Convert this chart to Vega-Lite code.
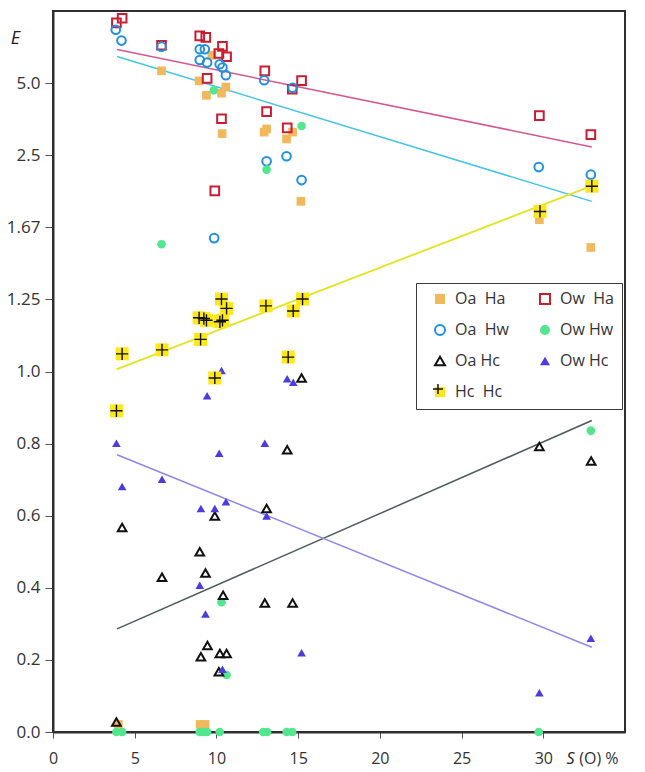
{
  "$schema": "https://vega.github.io/schema/vega-lite/v6.json",
  "width": 572,
  "height": 721,
  "autosize": {"type": "none"},
  "padding": {"left": 53, "top": 11, "right": 20, "bottom": 40},
  "background": "white",
  "config": {
    "font": "Open Sans",
    "view": {"stroke": "#2f2f2f", "strokeWidth": 2},
    "axis": {
      "grid": false,
      "domainColor": "#2f2f2f",
      "domainWidth": 2,
      "tickColor": "#555555",
      "tickWidth": 1,
      "labelColor": "#333333",
      "labelFont": "Open Sans",
      "labelFontSize": 16,
      "labelOverlap": false,
      "labelFlush": false,
      "titleFont": "Open Sans",
      "titleFontWeight": "normal",
      "titleColor": "#222222"
    }
  },
  "datasets": {
    "pts": [
      {"s": 6.64, "e": 1.834, "g": "Oa\u00a0\u00a0Ha"},
      {"s": 8.94, "e": 1.806, "g": "Oa\u00a0\u00a0Ha"},
      {"s": 9.39, "e": 1.766, "g": "Oa\u00a0\u00a0Ha"},
      {"s": 9.72, "e": 1.877, "g": "Oa\u00a0\u00a0Ha"},
      {"s": 10.31, "e": 1.772, "g": "Oa\u00a0\u00a0Ha"},
      {"s": 10.58, "e": 1.789, "g": "Oa\u00a0\u00a0Ha"},
      {"s": 10.35, "e": 1.66, "g": "Oa\u00a0\u00a0Ha"},
      {"s": 12.92, "e": 1.664, "g": "Oa\u00a0\u00a0Ha"},
      {"s": 13.07, "e": 1.673, "g": "Oa\u00a0\u00a0Ha"},
      {"s": 14.29, "e": 1.645, "g": "Oa\u00a0\u00a0Ha"},
      {"s": 14.66, "e": 1.664, "g": "Oa\u00a0\u00a0Ha"},
      {"s": 15.17, "e": 1.472, "g": "Oa\u00a0\u00a0Ha"},
      {"s": 29.76, "e": 1.421, "g": "Oa\u00a0\u00a0Ha"},
      {"s": 32.91, "e": 1.344, "g": "Oa\u00a0\u00a0Ha"},
      {"s": 4.0, "e": 0.021, "g": "Oa\u00a0\u00a0Ha"},
      {"s": 9.0, "e": 0.021, "g": "Oa\u00a0\u00a0Ha"},
      {"s": 9.3, "e": 0.021, "g": "Oa\u00a0\u00a0Ha"},

      {"s": 3.88, "e": 1.967, "g": "Ow\u00a0\u00a0Ha"},
      {"s": 4.23, "e": 1.98, "g": "Ow\u00a0\u00a0Ha"},
      {"s": 6.64, "e": 1.905, "g": "Ow\u00a0\u00a0Ha"},
      {"s": 8.98, "e": 1.931, "g": "Ow\u00a0\u00a0Ha"},
      {"s": 9.35, "e": 1.927, "g": "Ow\u00a0\u00a0Ha"},
      {"s": 10.37, "e": 1.902, "g": "Ow\u00a0\u00a0Ha"},
      {"s": 10.15, "e": 1.882, "g": "Ow\u00a0\u00a0Ha"},
      {"s": 10.62, "e": 1.873, "g": "Ow\u00a0\u00a0Ha"},
      {"s": 9.43, "e": 1.813, "g": "Ow\u00a0\u00a0Ha"},
      {"s": 12.96, "e": 1.834, "g": "Ow\u00a0\u00a0Ha"},
      {"s": 14.64, "e": 1.783, "g": "Ow\u00a0\u00a0Ha"},
      {"s": 15.21, "e": 1.807, "g": "Ow\u00a0\u00a0Ha"},
      {"s": 13.07, "e": 1.721, "g": "Ow\u00a0\u00a0Ha"},
      {"s": 10.31, "e": 1.701, "g": "Ow\u00a0\u00a0Ha"},
      {"s": 14.33, "e": 1.676, "g": "Ow\u00a0\u00a0Ha"},
      {"s": 9.9, "e": 1.501, "g": "Ow\u00a0\u00a0Ha"},
      {"s": 29.76, "e": 1.71, "g": "Ow\u00a0\u00a0Ha"},
      {"s": 32.91, "e": 1.657, "g": "Ow\u00a0\u00a0Ha"},

      {"s": 3.84, "e": 1.948, "g": "Oa\u00a0\u00a0Hw"},
      {"s": 4.19, "e": 1.918, "g": "Oa\u00a0\u00a0Hw"},
      {"s": 6.64, "e": 1.901, "g": "Oa\u00a0\u00a0Hw"},
      {"s": 8.98, "e": 1.894, "g": "Oa\u00a0\u00a0Hw"},
      {"s": 9.29, "e": 1.894, "g": "Oa\u00a0\u00a0Hw"},
      {"s": 8.98, "e": 1.864, "g": "Oa\u00a0\u00a0Hw"},
      {"s": 9.43, "e": 1.857, "g": "Oa\u00a0\u00a0Hw"},
      {"s": 10.2, "e": 1.852, "g": "Oa\u00a0\u00a0Hw"},
      {"s": 10.37, "e": 1.843, "g": "Oa\u00a0\u00a0Hw"},
      {"s": 10.58, "e": 1.822, "g": "Oa\u00a0\u00a0Hw"},
      {"s": 12.92, "e": 1.808, "g": "Oa\u00a0\u00a0Hw"},
      {"s": 14.66, "e": 1.787, "g": "Oa\u00a0\u00a0Hw"},
      {"s": 13.07, "e": 1.583, "g": "Oa\u00a0\u00a0Hw"},
      {"s": 14.29, "e": 1.597, "g": "Oa\u00a0\u00a0Hw"},
      {"s": 15.21, "e": 1.531, "g": "Oa\u00a0\u00a0Hw"},
      {"s": 9.86, "e": 1.37, "g": "Oa\u00a0\u00a0Hw"},
      {"s": 29.72, "e": 1.567, "g": "Oa\u00a0\u00a0Hw"},
      {"s": 32.91, "e": 1.546, "g": "Oa\u00a0\u00a0Hw"},

      {"s": 9.84, "e": 1.78, "g": "Ow Hw"},
      {"s": 6.64, "e": 1.353, "g": "Ow Hw"},
      {"s": 15.21, "e": 1.681, "g": "Ow Hw"},
      {"s": 13.07, "e": 1.56, "g": "Ow Hw"},
      {"s": 32.91, "e": 0.836, "g": "Ow Hw"},
      {"s": 10.31, "e": 0.36, "g": "Ow Hw"},
      {"s": 10.62, "e": 0.158, "g": "Ow Hw"},
      {"s": 3.88, "e": 0, "g": "Ow Hw"},
      {"s": 4.23, "e": 0, "g": "Ow Hw"},
      {"s": 8.98, "e": 0, "g": "Ow Hw"},
      {"s": 9.2, "e": 0, "g": "Ow Hw"},
      {"s": 9.43, "e": 0, "g": "Ow Hw"},
      {"s": 10.2, "e": 0, "g": "Ow Hw"},
      {"s": 12.86, "e": 0, "g": "Ow Hw"},
      {"s": 13.1, "e": 0, "g": "Ow Hw"},
      {"s": 14.3, "e": 0, "g": "Ow Hw"},
      {"s": 14.64, "e": 0, "g": "Ow Hw"},
      {"s": 29.72, "e": 0, "g": "Ow Hw"},

      {"s": 15.21, "e": 0.982, "g": "Oa Hc"},
      {"s": 14.33, "e": 0.783, "g": "Oa Hc"},
      {"s": 4.23, "e": 0.567, "g": "Oa Hc"},
      {"s": 6.67, "e": 0.429, "g": "Oa Hc"},
      {"s": 8.98, "e": 0.5, "g": "Oa Hc"},
      {"s": 9.33, "e": 0.441, "g": "Oa Hc"},
      {"s": 9.9, "e": 0.599, "g": "Oa Hc"},
      {"s": 13.07, "e": 0.62, "g": "Oa Hc"},
      {"s": 10.41, "e": 0.379, "g": "Oa Hc"},
      {"s": 12.96, "e": 0.358, "g": "Oa Hc"},
      {"s": 14.66, "e": 0.358, "g": "Oa Hc"},
      {"s": 9.45, "e": 0.24, "g": "Oa Hc"},
      {"s": 9.05, "e": 0.209, "g": "Oa Hc"},
      {"s": 10.21, "e": 0.218, "g": "Oa Hc"},
      {"s": 10.62, "e": 0.218, "g": "Oa Hc"},
      {"s": 10.15, "e": 0.167, "g": "Oa Hc"},
      {"s": 3.88, "e": 0.028, "g": "Oa Hc"},
      {"s": 29.76, "e": 0.792, "g": "Oa Hc"},
      {"s": 32.93, "e": 0.752, "g": "Oa Hc"},

      {"s": 3.88, "e": 0.801, "g": "Ow Hc"},
      {"s": 4.23, "e": 0.681, "g": "Ow Hc"},
      {"s": 6.67, "e": 0.701, "g": "Ow Hc"},
      {"s": 9.43, "e": 0.933, "g": "Ow Hc"},
      {"s": 10.31, "e": 1.003, "g": "Ow Hc"},
      {"s": 10.17, "e": 0.773, "g": "Ow Hc"},
      {"s": 12.96, "e": 0.801, "g": "Ow Hc"},
      {"s": 14.33, "e": 0.98, "g": "Ow Hc"},
      {"s": 14.7, "e": 0.97, "g": "Ow Hc"},
      {"s": 9.05, "e": 0.62, "g": "Ow Hc"},
      {"s": 9.9, "e": 0.62, "g": "Ow Hc"},
      {"s": 10.58, "e": 0.639, "g": "Ow Hc"},
      {"s": 13.07, "e": 0.599, "g": "Ow Hc"},
      {"s": 8.98, "e": 0.407, "g": "Ow Hc"},
      {"s": 9.33, "e": 0.327, "g": "Ow Hc"},
      {"s": 15.21, "e": 0.22, "g": "Ow Hc"},
      {"s": 10.37, "e": 0.174, "g": "Ow Hc"},
      {"s": 32.91, "e": 0.26, "g": "Ow Hc"},
      {"s": 29.76, "e": 0.109, "g": "Ow Hc"},

      {"s": 3.88, "e": 0.891, "g": "Hc\u00a0\u00a0Hc"},
      {"s": 4.23, "e": 1.049, "g": "Hc\u00a0\u00a0Hc"},
      {"s": 6.67, "e": 1.06, "g": "Hc\u00a0\u00a0Hc"},
      {"s": 9.03, "e": 1.089, "g": "Hc\u00a0\u00a0Hc"},
      {"s": 8.94, "e": 1.149, "g": "Hc\u00a0\u00a0Hc"},
      {"s": 9.23, "e": 1.147, "g": "Hc\u00a0\u00a0Hc"},
      {"s": 9.39, "e": 1.142, "g": "Hc\u00a0\u00a0Hc"},
      {"s": 9.9, "e": 0.982, "g": "Hc\u00a0\u00a0Hc"},
      {"s": 10.31, "e": 1.201, "g": "Hc\u00a0\u00a0Hc"},
      {"s": 10.62, "e": 1.175, "g": "Hc\u00a0\u00a0Hc"},
      {"s": 10.21, "e": 1.138, "g": "Hc\u00a0\u00a0Hc"},
      {"s": 10.37, "e": 1.142, "g": "Hc\u00a0\u00a0Hc"},
      {"s": 13.03, "e": 1.182, "g": "Hc\u00a0\u00a0Hc"},
      {"s": 14.7, "e": 1.168, "g": "Hc\u00a0\u00a0Hc"},
      {"s": 15.27, "e": 1.201, "g": "Hc\u00a0\u00a0Hc"},
      {"s": 14.39, "e": 1.04, "g": "Hc\u00a0\u00a0Hc"},
      {"s": 29.8, "e": 1.444, "g": "Hc\u00a0\u00a0Hc"},
      {"s": 32.97, "e": 1.514, "g": "Hc\u00a0\u00a0Hc"}
    ]
  },
  "encoding": {
    "x": {
      "field": "s", "type": "quantitative",
      "scale": {"domain": [0, 35], "nice": false, "zero": false},
      "axis": {
        "values": [0, 5, 10, 15, 20, 25, 30, 35],
        "labelExpr": "datum.value === 35 ? '(O) %' : datum.label",
        "labelAlign": {"condition": {"test": "datum.value === 35", "value": "right"}, "value": "center"},
        "labelOffset": {"condition": {"test": "datum.value === 35", "value": -7}, "value": 0},
        "tickOpacity": {"condition": {"test": "datum.value === 35", "value": 0}, "value": 1},
        "tickSize": 6,
        "labelPadding": 12,
        "title": "S",
        "titleFontStyle": "italic",
        "titleFontSize": 16,
        "titleAlign": "right",
        "titleBaseline": "top",
        "titleX": 521,
        "titleY": 18
      }
    },
    "y": {
      "field": "e", "type": "quantitative",
      "scale": {"domain": [0, 2], "nice": false, "zero": false},
      "axis": {
        "values": [0, 0.2, 0.4, 0.6, 0.8, 1, 1.2, 1.4, 1.6, 1.8],
        "labelExpr": "abs(datum.value - 1.2) < 0.001 ? '1.25' : abs(datum.value - 1.4) < 0.001 ? '1.67' : abs(datum.value - 1.6) < 0.001 ? '2.5' : abs(datum.value - 1.8) < 0.001 ? '5.0' : datum.label",
        "labelFontSize": 17,
        "tickSize": 8,
        "labelPadding": 5,
        "title": "E",
        "titleFontStyle": "italic",
        "titleFontSize": 18,
        "titleAngle": 0,
        "titleAlign": "center",
        "titleBaseline": "middle",
        "titleX": -38,
        "titleY": 27
      }
    }
  },
  "layer": [
    {
      "data": {"values": [{"s": 3.92, "e": 1.893}, {"s": 32.97, "e": 1.623}]},
      "mark": {"type": "line", "color": "#D6578F", "strokeWidth": 1.5}
    },
    {
      "data": {"values": [{"s": 3.92, "e": 1.874}, {"s": 32.97, "e": 1.472}]},
      "mark": {"type": "line", "color": "#47C4E5", "strokeWidth": 1.5}
    },
    {
      "data": {"values": [{"s": 3.88, "e": 1.006}, {"s": 32.97, "e": 1.515}]},
      "mark": {"type": "line", "color": "#E3E41F", "strokeWidth": 1.8}
    },
    {
      "data": {"values": [{"s": 3.92, "e": 0.286}, {"s": 32.97, "e": 0.864}]},
      "mark": {"type": "line", "color": "#4D5B5B", "strokeWidth": 1.5}
    },
    {
      "data": {"values": [{"s": 3.92, "e": 0.769}, {"s": 32.97, "e": 0.235}]},
      "mark": {"type": "line", "color": "#8F86EA", "strokeWidth": 1.5}
    },
    {
      "data": {"name": "pts"},
      "transform": [{"filter": {"not": {"field": "g", "equal": "Hc\u00a0\u00a0Hc"}}}],
      "mark": {"type": "point", "size": 75, "strokeWidth": 2, "opacity": 1},
      "encoding": {
        "shape": {
          "field": "g", "type": "nominal",
          "scale": {
            "domain": ["Oa\u00a0\u00a0Ha", "Oa\u00a0\u00a0Hw", "Oa Hc", "Hc\u00a0\u00a0Hc", "Ow\u00a0\u00a0Ha", "Ow Hw", "Ow Hc"],
            "range": ["square", "circle", "triangle-up", "square", "square", "circle", "triangle-up"]
          },
          "legend": {
            "orient": "none",
            "legendX": 363,
            "legendY": 272,
            "title": null,
            "columns": 2,
            "padding": 8,
            "strokeColor": "#3a3a3a",
            "fillColor": "white",
            "symbolSize": 100,
            "symbolStrokeWidth": 2,
            "symbolOffset": 8,
            "labelOffset": 7,
            "columnPadding": 20,
            "rowPadding": 13,
            "labelFont": "Open Sans",
            "labelFontSize": 16,
            "labelColor": "#333333"
          }
        },
        "fill": {
          "field": "g", "type": "nominal",
          "scale": {
            "domain": ["Oa\u00a0\u00a0Ha", "Oa\u00a0\u00a0Hw", "Oa Hc", "Hc\u00a0\u00a0Hc", "Ow\u00a0\u00a0Ha", "Ow Hw", "Ow Hc"],
            "range": ["#F2B85C", "transparent", "transparent", "#FFE81A", "transparent", "#52E68F", "#4B3BE0"]
          }
        },
        "stroke": {
          "field": "g", "type": "nominal",
          "scale": {
            "domain": ["Oa\u00a0\u00a0Ha", "Oa\u00a0\u00a0Hw", "Oa Hc", "Hc\u00a0\u00a0Hc", "Ow\u00a0\u00a0Ha", "Ow Hw", "Ow Hc"],
            "range": ["transparent", "#2090E0", "#111111", "transparent", "#C81E32", "transparent", "transparent"]
          }
        }
      }
    },
    {
      "data": {"name": "pts"},
      "transform": [{"filter": {"field": "g", "equal": "Hc\u00a0\u00a0Hc"}}],
      "mark": {"type": "point", "shape": "square", "size": 170, "filled": true, "color": "#FFE81A", "opacity": 1}
    },
    {
      "data": {"name": "pts"},
      "transform": [{"filter": {"field": "g", "equal": "Hc\u00a0\u00a0Hc"}}],
      "mark": {"type": "point", "shape": "M-1,0L1,0M0,-1L0,1", "size": 150, "filled": false, "stroke": "#111111", "strokeWidth": 1.4},
      "encoding": {
        "opacity": {
          "field": "g", "type": "nominal",
          "scale": {"type": "ordinal", "domain": ["Hc\u00a0\u00a0Hc"], "range": [1]},
          "legend": {
            "orient": "none",
            "legendX": 363,
            "legendY": 364,
            "title": null,
            "padding": 8,
            "symbolType": "M-1,0L1,0M0,-1L0,1",
            "symbolSize": 100,
            "symbolOffset": 8,
            "labelExpr": "''",
            "encode": {"symbols": {"update": {"fill": {"value": "transparent"}, "stroke": {"value": "#111111"}, "strokeWidth": {"value": 1.4}, "opacity": {"value": 1}}}}
          }
        }
      }
    }
  ]
}
